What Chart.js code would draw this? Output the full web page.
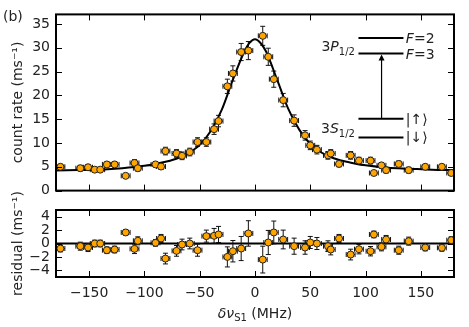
<!DOCTYPE html>
<html>
<head>
<meta charset="utf-8">
<script src="https://cdn.jsdelivr.net/npm/chart.js@4.4.0/dist/chart.umd.min.js"></script>
<style>
  html, body { margin: 0; padding: 0; background: #fff; }
  #wrap { position: relative; width: 469px; height: 327px; }
  canvas { position: absolute; left: 0; }
  #topChart { top: 0; }
  #botChart { top: 180px; }
</style>
</head>
<body>
<div id="wrap">
  <canvas id="topChart" width="469" height="205"></canvas>
  <canvas id="botChart" width="469" height="147"></canvas>
</div>
<script>
  // measured points (MHz, ms^-1)
  const freq = [-176, -158, -151, -145, -140, -134, -127, -117, -109, -106, -90, -85, -81, -71, -66,
    -59, -52, -44, -37, -33, -25, -20, -12.5, -6, 7, 12, 17, 25.5, 35.4, 45.3,
    50, 56, 66, 68.5, 76, 86.5, 94, 104.5, 107.5, 114.4, 118.6, 130, 139, 154, 169, 177.5];
  const rate = [5.0, 4.7, 4.9, 4.4, 4.4, 5.5, 5.5, 3.1, 5.8, 4.7, 5.5, 5.05, 8.3, 7.8, 7.3,
    8.1, 10.2, 10.2, 12.9, 14.6, 21.9, 24.6, 29.1, 29.4, 32.5, 28.1, 23.4, 19.0, 14.7, 11.6,
    9.5, 8.6, 7.4, 7.8, 5.6, 7.4, 6.3, 6.3, 3.7, 5.3, 4.3, 5.6, 4.3, 5.0, 5.0, 3.7];
  const rateErr = [0.5, 0.6, 0.6, 0.5, 0.5, 0.5, 0.5, 0.4, 0.7, 0.6, 0.5, 0.6, 0.8, 0.8, 0.8,
    0.8, 0.9, 0.9, 1.1, 1.2, 1.5, 1.6, 1.8, 1.9, 2.0, 1.8, 1.7, 1.4, 1.2, 1.0,
    0.9, 0.9, 0.8, 0.8, 0.6, 0.8, 0.7, 0.7, 0.5, 0.6, 0.6, 0.6, 0.6, 0.5, 0.5, 0.5];
  const freqErr = 4;
  const residual = [-0.75, -0.4, -0.6, 0.0, 0.0, -1.0, -0.9, 1.65, -0.8, 0.4, 0.1, 0.75, -2.25, -1.1, -0.15,
    0.0, -1.0, 1.1, 1.15, 1.35, -2.0, -1.15, -0.75, 1.5, -2.4, 0.15, 1.65, 0.6, -0.4, -0.6,
    0.15, 0.0, -0.4, -0.9, 0.75, -1.65, -0.85, -1.15, 1.35, -0.5, 0.6, -1.0, 0.35, -0.6, -0.65, 0.5];

  // fitted line
  const fitFreq = [-180, -160, -140, -120, -100, -90, -80, -70, -60, -50, -40, -30, -20, -10, -5, 0,
    5, 10, 20, 30, 40, 50, 60, 70, 80, 90, 100, 120, 140, 160, 180];
  const fitRate = [4.2, 4.3, 4.4, 4.7, 5.2, 5.6, 6.1, 6.8, 7.9, 9.6, 12.5, 17.0, 23.3, 29.0, 31.0, 31.8,
    31.0, 29.2, 23.3, 17.2, 12.8, 9.8, 8.0, 6.9, 6.2, 5.7, 5.3, 4.8, 4.6, 4.4, 4.3];

  const xTicks = [-150, -100, -50, 0, 50, 100, 150];
  const yTicksTop = [0, 5, 10, 15, 20, 25, 30, 35];
  const yTicksRes = [-4, -2, 0, 2, 4];

  const FONT = '"DejaVu Sans", sans-serif';
  const TEXT = '#222';
  const TICK = 6;

  Chart.defaults.font.family = FONT;
  Chart.defaults.font.size = 14;
  Chart.defaults.color = TEXT;

  const minus = v => String(v).replace('-', '\u2212');

  function drawRuns(ctx, x, y, runs, align) {
    let w = 0;
    runs.forEach(r => { ctx.font = r.f; w += ctx.measureText(r.t).width; });
    let cx = align === 'right' ? x - w : align === 'center' ? x - w / 2 : x;
    runs.forEach(r => {
      ctx.font = r.f;
      ctx.fillText(r.t, cx, y + (r.dy || 0));
      cx += ctx.measureText(r.t).width;
    });
  }

  function drawErrorBars(chart, ys, errs) {
    const { ctx, chartArea: a, scales: { x, y } } = chart;
    ctx.save();
    ctx.beginPath();
    ctx.rect(a.left, a.top, a.right - a.left, a.bottom - a.top);
    ctx.clip();
    ctx.strokeStyle = '#111';
    ctx.lineWidth = 1;
    ctx.beginPath();
    freq.forEach((f, i) => {
      const px = x.getPixelForValue(f);
      const py = y.getPixelForValue(ys[i]);
      const y0 = y.getPixelForValue(ys[i] - errs[i]);
      const y1 = y.getPixelForValue(ys[i] + errs[i]);
      const x0 = x.getPixelForValue(f - freqErr);
      const x1 = x.getPixelForValue(f + freqErr);
      ctx.moveTo(px, y0); ctx.lineTo(px, y1);
      ctx.moveTo(px - 2.5, y0); ctx.lineTo(px + 2.5, y0);
      ctx.moveTo(px - 2.5, y1); ctx.lineTo(px + 2.5, y1);
      ctx.moveTo(x0, py); ctx.lineTo(x1, py);
      ctx.moveTo(x0, py - 2.5); ctx.lineTo(x0, py + 2.5);
      ctx.moveTo(x1, py - 2.5); ctx.lineTo(x1, py + 2.5);
    });
    ctx.stroke();
    ctx.restore();
  }

  function drawFrame(chart, yTicks) {
    const { ctx, chartArea: a, scales: { x, y } } = chart;
    ctx.save();
    ctx.strokeStyle = '#000';
    ctx.lineWidth = 1;
    ctx.beginPath();
    xTicks.forEach(v => {
      const px = Math.round(x.getPixelForValue(v)) + 0.5;
      ctx.moveTo(px, a.top); ctx.lineTo(px, a.top + TICK);
      ctx.moveTo(px, a.bottom); ctx.lineTo(px, a.bottom - TICK);
    });
    yTicks.forEach(v => {
      const py = Math.round(y.getPixelForValue(v)) + 0.5;
      ctx.moveTo(a.left, py); ctx.lineTo(a.left + TICK, py);
      ctx.moveTo(a.right, py); ctx.lineTo(a.right - TICK, py);
    });
    ctx.stroke();
    ctx.lineWidth = 2;
    ctx.strokeRect(a.left, a.top, a.right - a.left, a.bottom - a.top);
    ctx.restore();
  }

  // level diagram inset, placed in fractions of the plot area
  function drawInset(chart) {
    const { ctx, chartArea: a } = chart;
    const W = a.right - a.left, H = a.bottom - a.top;
    const fx = f => a.left + f * W, fy = f => a.top + f * H;
    const x0 = fx(0.76), x1 = fx(0.873), xa = fx(0.818);
    const lv = { f2: fy(0.134), f3: fy(0.2225), up: fy(0.5926), dn: fy(0.698) };
    ctx.save();
    ctx.strokeStyle = '#000';
    ctx.lineWidth = 2;
    ctx.beginPath();
    Object.values(lv).forEach(py => { ctx.moveTo(x0, py); ctx.lineTo(x1, py); });
    ctx.stroke();
    ctx.lineWidth = 1.2;
    ctx.beginPath();
    ctx.moveTo(xa, lv.up); ctx.lineTo(xa, lv.f3 + 5);
    ctx.stroke();
    ctx.fillStyle = '#000';
    ctx.beginPath();
    ctx.moveTo(xa, lv.f3 + 1); ctx.lineTo(xa - 3, lv.f3 + 7); ctx.lineTo(xa + 3, lv.f3 + 7);
    ctx.closePath(); ctx.fill();

    ctx.fillStyle = TEXT;
    ctx.textBaseline = 'alphabetic';
    const rm = '14px ' + FONT, it = 'italic 14px ' + FONT, sm = '10px ' + FONT;
    const lx = fx(0.751), rx = fx(0.879);
    drawRuns(ctx, lx, (lv.f2 + lv.f3) / 2 + 5, [{ t: '3', f: rm }, { t: 'P', f: it }, { t: '1/2', f: sm, dy: 4 }], 'right');
    drawRuns(ctx, lx, (lv.up + lv.dn) / 2 + 5, [{ t: '3', f: rm }, { t: 'S', f: it }, { t: '1/2', f: sm, dy: 4 }], 'right');
    drawRuns(ctx, rx, lv.f2 + 5, [{ t: 'F', f: it }, { t: '=2', f: rm }], 'left');
    drawRuns(ctx, rx, lv.f3 + 5, [{ t: 'F', f: it }, { t: '=3', f: rm }], 'left');
    drawRuns(ctx, rx, lv.up + 5, [{ t: '|\u2191\u27E9', f: rm }], 'left');
    drawRuns(ctx, rx, lv.dn + 5, [{ t: '|\u2193\u27E9', f: rm }], 'left');
    ctx.restore();
  }

  function yScale(min, max, ticks, title) {
    return {
      type: 'linear', min: min, max: max,
      afterBuildTicks: s => { s.ticks = ticks.map(v => ({ value: v })); },
      afterFit: s => { s.width = 56; },
      grid: { display: false, drawTicks: false },
      border: { display: false },
      ticks: { padding: 6, autoSkip: false, color: TEXT, font: { size: 14 }, callback: minus },
      title: { display: true, text: title, color: TEXT, font: { size: 14 }, padding: { top: 10, bottom: 0 } }
    };
  }

  function pointSet(ys) {
    return {
      type: 'scatter',
      data: freq.map((f, i) => ({ x: f, y: ys[i] })),
      pointRadius: 3.5,
      pointBackgroundColor: '#FFA500',
      pointBorderColor: '#222',
      pointBorderWidth: 1,
      clip: 0,
      order: 1
    };
  }

  new Chart(document.getElementById('topChart'), {
    data: {
      datasets: [
        {
          type: 'line',
          data: fitFreq.map((f, i) => ({ x: f, y: fitRate[i] })),
          borderColor: '#000',
          borderWidth: 2,
          pointRadius: 0,
          cubicInterpolationMode: 'monotone',
          clip: 0,
          order: 2
        },
        pointSet(rate)
      ]
    },
    options: {
      responsive: false,
      animation: false,
      devicePixelRatio: 1,
      layout: { padding: { top: 8, right: 15, bottom: 8, left: 0 } },
      plugins: { legend: { display: false }, tooltip: { enabled: false } },
      scales: {
        x: { type: 'linear', min: -180, max: 180, display: false },
        y: yScale(0, 37, yTicksTop, 'count rate (ms\u207B\u00B9)')
      }
    },
    plugins: [{
      id: 'topDecor',
      beforeDatasetsDraw: chart => drawErrorBars(chart, rate, rateErr),
      afterDraw: chart => {
        drawFrame(chart, yTicksTop);
        drawInset(chart);
        const ctx = chart.ctx;
        ctx.save();
        ctx.fillStyle = TEXT;
        ctx.font = '14px ' + FONT;
        ctx.textBaseline = 'alphabetic';
        ctx.fillText('(b)', 3, 20.5);
        ctx.restore();
      }
    }]
  });

  new Chart(document.getElementById('botChart'), {
    data: { datasets: [pointSet(residual)] },
    options: {
      responsive: false,
      animation: false,
      devicePixelRatio: 1,
      layout: { padding: { top: 30, right: 15, bottom: 0, left: 0 } },
      plugins: { legend: { display: false }, tooltip: { enabled: false } },
      scales: {
        x: {
          type: 'linear', min: -180, max: 180,
          afterBuildTicks: s => { s.ticks = xTicks.map(v => ({ value: v })); },
          afterFit: s => { s.height = 50; },
          grid: { display: false, drawTicks: false },
          border: { display: false },
          ticks: { padding: 8, color: TEXT, font: { size: 14 }, callback: minus }
        },
        y: yScale(-5, 5, yTicksRes, 'residual (ms\u207B\u00B9)')
      }
    },
    plugins: [{
      id: 'botDecor',
      beforeDatasetsDraw: chart => {
        const { ctx, chartArea: a, scales: { y } } = chart;
        ctx.save();
        ctx.strokeStyle = '#000';
        ctx.lineWidth = 2;
        ctx.beginPath();
        const py = y.getPixelForValue(0);
        ctx.moveTo(a.left, py); ctx.lineTo(a.right, py);
        ctx.stroke();
        ctx.restore();
        drawErrorBars(chart, residual, rateErr);
      },
      afterDraw: chart => {
        drawFrame(chart, yTicksRes);
        const { ctx, chartArea: a } = chart;
        ctx.save();
        ctx.fillStyle = TEXT;
        ctx.textBaseline = 'alphabetic';
        drawRuns(ctx, (a.left + a.right) / 2, 138, [
          { t: '\u03B4\u03BD', f: 'italic 14px ' + FONT },
          { t: 'S1', f: '10px ' + FONT, dy: 3 },
          { t: ' (MHz)', f: '14px ' + FONT }
        ], 'center');
        ctx.restore();
      }
    }]
  });
</script>
</body>
</html>
